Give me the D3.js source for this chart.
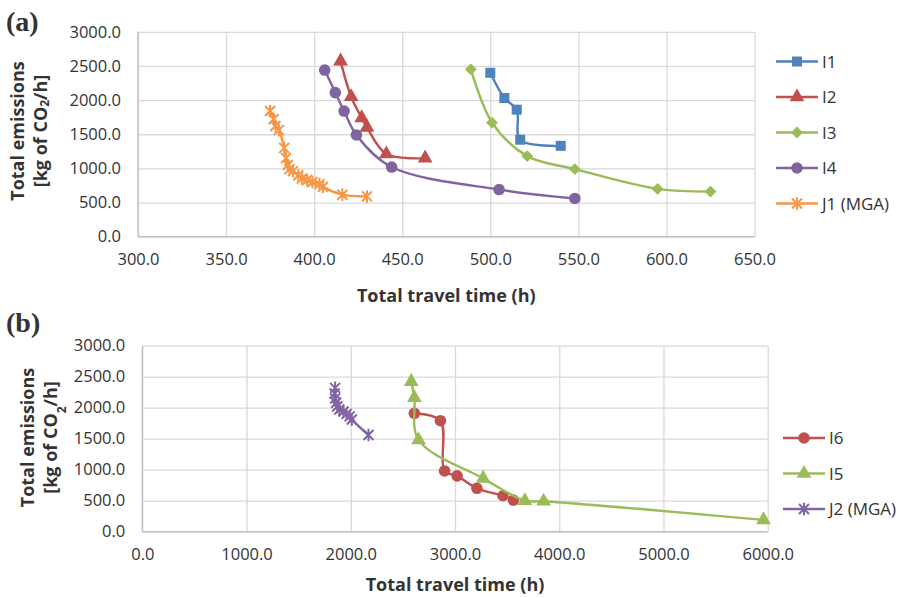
<!DOCTYPE html>
<html>
<head>
<meta charset="utf-8">
<script src="https://cdn.jsdelivr.net/npm/d3@7"></script>
<style>
  body { margin: 0; background: #fff; }
  text { font-family: "Open Sans", "Noto Sans", sans-serif; fill: #333; }
</style>
</head>
<body>
<div id="chart"></div>
<script>
// panel (a)
const xTicksA = [300, 350, 400, 450, 500, 550, 600, 650];
const yTicksA = [0, 500, 1000, 1500, 2000, 2500, 3000];
const i1 = [[500, 2400], [508, 2030], [515, 1860], [517, 1420], [540, 1330]];
const i2 = [[415, 2570], [421, 2050], [427, 1740], [430, 1600], [441, 1210], [463, 1150]];
const i3 = [[489, 2450], [501, 1670], [521, 1180], [548, 990], [595, 700], [625, 660]];
const i4 = [[406, 2440], [412, 2110], [417, 1840], [424, 1490], [444, 1020], [505, 690], [548, 560]];
const j1 = [[375, 1840], [377, 1720], [378, 1620], [380, 1560], [383, 1300], [384, 1150], [385, 1050],
            [386, 990], [388, 960], [391, 900], [393, 850], [396, 830], [399, 800], [403, 770],
            [405, 730], [416, 615], [430, 590]];

// panel (b)
const xTicksB = [0, 1000, 2000, 3000, 4000, 5000, 6000];
const yTicksB = [0, 500, 1000, 1500, 2000, 2500, 3000];
const i6 = [[2610, 1910], [2860, 1790], [2900, 980], [3020, 900], [3210, 700], [3460, 580], [3560, 510]];
const i5 = [[2580, 2420], [2610, 2160], [2650, 1480], [3270, 860], [3670, 500], [3850, 490], [5960, 190]];
const j2 = [[1850, 2320], [1845, 2230], [1850, 2150], [1860, 2080], [1870, 2020], [1890, 1970],
            [1930, 1940], [1960, 1900], [1990, 1860], [2010, 1810], [2170, 1560]];

const svg = d3.select("#chart").append("svg")
    .attr("width", 906)
    .attr("height", 598);

const fmt = d3.format(".1f");

// asterisk marker (x plus vertical bar)
const asterisk = r => `M${-r},${-r}L${r},${r}M${-r},${r}L${r},${-r}M0,${-r * 1.25}L0,${r * 1.25}`;

const drawMarker = (g, shape, color) => {
    if (shape === "square") {
        g.append("rect").attr("x", -5).attr("y", -5).attr("width", 10).attr("height", 10)
            .attr("fill", color);
    } else if (shape === "diamond") {
        g.append("rect").attr("x", -4.2).attr("y", -4.2).attr("width", 8.4).attr("height", 8.4)
            .attr("transform", "rotate(45)").attr("fill", color);
    } else if (shape === "triangle") {
        g.append("path").attr("d", d3.symbol(d3.symbolTriangle, 95)()).attr("fill", color);
    } else if (shape === "circle") {
        g.append("circle").attr("r", 5.8).attr("fill", color);
    } else {
        g.append("path").attr("d", asterisk(5))
            .attr("stroke", color).attr("stroke-width", 2).attr("fill", "none");
    }
};

const drawPanel = (p) => {
    const x = d3.scaleLinear().domain(p.xDomain).range([p.left, p.right]);
    const y = d3.scaleLinear().domain([0, 3000]).range([p.bottom, p.top]);
    const g = svg.append("g");

    // gridlines
    g.append("g")
        .attr("transform", `translate(0,${p.bottom})`)
        .call(d3.axisBottom(x).tickValues(p.xTicks).tickSize(-(p.bottom - p.top)).tickFormat(""))
        .call(a => a.select(".domain").remove())
        .call(a => a.selectAll("line").attr("stroke", "#d9d9d9").attr("stroke-width", 1.3));
    g.append("g")
        .attr("transform", `translate(${p.left},0)`)
        .call(d3.axisLeft(y).tickValues(p.yTicks).tickSize(-(p.right - p.left)).tickFormat(""))
        .call(a => a.select(".domain").remove())
        .call(a => a.selectAll("line").attr("stroke", "#d9d9d9").attr("stroke-width", 1.3));

    // axis lines
    g.append("line").attr("x1", p.left).attr("x2", p.left).attr("y1", p.top).attr("y2", p.bottom)
        .attr("stroke", "#bfbfbf").attr("stroke-width", 1.3);
    g.append("line").attr("x1", p.left).attr("x2", p.right).attr("y1", p.bottom).attr("y2", p.bottom)
        .attr("stroke", "#bfbfbf").attr("stroke-width", 1.3);

    // tick labels
    g.append("g")
        .attr("transform", `translate(0,${p.bottom})`)
        .call(d3.axisBottom(x).tickValues(p.xTicks).tickSize(0).tickPadding(17).tickFormat(fmt))
        .call(a => a.select(".domain").remove())
        .call(a => a.selectAll("text").attr("font-size", 16.5)
            .style("font-family", "'Open Sans', sans-serif").attr("fill", "#404040"));
    g.append("g")
        .attr("transform", `translate(${p.left},0)`)
        .call(d3.axisLeft(y).tickValues(p.yTicks).tickSize(0).tickPadding(17).tickFormat(fmt))
        .call(a => a.select(".domain").remove())
        .call(a => a.selectAll("text").attr("font-size", 16.5)
            .style("font-family", "'Open Sans', sans-serif").attr("fill", "#404040"));

    // series
    const line = d3.line().x(d => x(d[0])).y(d => y(d[1])).curve(d3.curveCatmullRom.alpha(0.5));
    p.series.forEach(s => {
        g.append("path").attr("d", line(s.data))
            .attr("fill", "none").attr("stroke", s.color).attr("stroke-width", 2.4);
        s.data.forEach(d => {
            const m = g.append("g").attr("transform", `translate(${x(d[0])},${y(d[1])})`);
            drawMarker(m, s.shape, s.color);
        });
    });

    // legend
    p.series.forEach((s, i) => {
        const ly = p.legendY + i * 35.5;
        const lg = g.append("g");
        lg.append("line").attr("x1", p.legendX).attr("x2", p.legendX + 42)
            .attr("y1", ly).attr("y2", ly).attr("stroke", s.color).attr("stroke-width", 2.4);
        drawMarker(lg.append("g").attr("transform", `translate(${p.legendX + 21},${ly})`), s.shape, s.color);
        lg.append("text").attr("x", p.legendX + 46).attr("y", ly).attr("dy", "0.36em")
            .attr("font-size", 17).text(s.name);
    });

    // axis titles
    g.append("text").attr("x", (p.left + p.right) / 2).attr("y", p.xTitleY)
        .attr("text-anchor", "middle").attr("font-size", 18).attr("font-weight", "bold")
        .text("Total travel time (h)");
    const yt = g.append("text")
        .attr("transform", `translate(${p.yTitleX},${p.yTitleY}) rotate(-90)`)
        .attr("text-anchor", "middle").attr("font-size", 18).attr("font-weight", "bold");
    yt.append("tspan").attr("x", 0).attr("y", 0).text("Total emissions");
    const l2 = yt.append("tspan").attr("x", 0).attr("y", 23);
    l2.append("tspan").text("[kg of CO");
    l2.append("tspan").attr("font-size", 12).attr("baseline-shift", p.subShift).text("2");
    l2.append("tspan").text("/h]");

    // panel label
    g.append("text").attr("x", 6).attr("y", p.labelY)
        .style("font-family", "'Liberation Serif', 'Times New Roman', serif")
        .attr("font-size", 28).attr("font-weight", "bold").attr("fill", "#222")
        .text(p.label);
};

drawPanel({
    label: "(a)", labelY: 31,
    xDomain: [300, 650], xTicks: xTicksA, yTicks: yTicksA,
    left: 138, right: 754.5, top: 31.8, bottom: 236.7,
    xTitleY: 302, yTitleX: 24, yTitleY: 131, subShift: "-2",
    legendX: 776, legendY: 61.5,
    series: [
        { name: "I1", data: i1, color: "#4f81bd", shape: "square" },
        { name: "I2", data: i2, color: "#c0504d", shape: "triangle" },
        { name: "I3", data: i3, color: "#9bbb59", shape: "diamond" },
        { name: "I4", data: i4, color: "#8064a2", shape: "circle" },
        { name: "J1 (MGA)", data: j1, color: "#f79646", shape: "asterisk" }
    ]
});

drawPanel({
    label: "(b)", labelY: 332,
    xDomain: [0, 6000], xTicks: xTicksB, yTicks: yTicksB,
    left: 142.3, right: 767.7, top: 345.7, bottom: 531.7,
    xTitleY: 591, yTitleX: 34, yTitleY: 437.5, subShift: "sub",
    legendX: 783, legendY: 438,
    series: [
        { name: "I6", data: i6, color: "#c0504d", shape: "circle" },
        { name: "I5", data: i5, color: "#9bbb59", shape: "triangle" },
        { name: "J2 (MGA)", data: j2, color: "#8064a2", shape: "asterisk" }
    ]
});
</script>
</body>
</html>
